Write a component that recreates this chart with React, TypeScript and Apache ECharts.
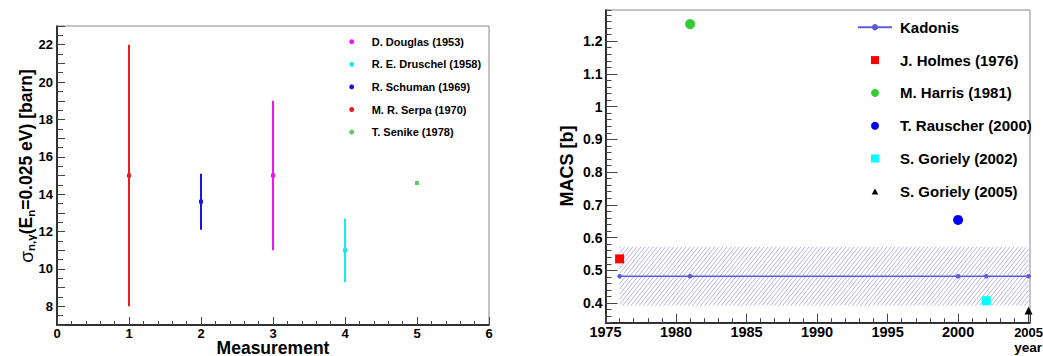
import React, { useEffect, useRef } from 'react';
import * as echarts from 'echarts';

// ---- Left panel: thermal cross section measurements ----
const measNames = ['D. Douglas (1953)', 'R. E. Druschel (1958)', 'R. Schuman (1969)', 'M. R. Serpa (1970)', 'T. Senike (1978)'];
const measIndex = [3, 4, 2, 1, 5];
const measValue = [15, 11, 13.6, 15, 14.6];
const measError = [4, 1.7, 1.5, 7, 0];
const measColors = ['#f014f0', '#14ecec', '#1818d8', '#ee1c1c', '#5ccc5c'];
const leftYTicks = [8, 10, 12, 14, 16, 18, 20, 22];

// ---- Right panel: MACS vs year ----
const kadonisYears = [1976, 1981, 2000, 2002, 2005];
const kadonisValue = 0.482;
const kadonisError = 0.09;
const refNames = ['J. Holmes (1976)', 'M. Harris (1981)', 'T. Rauscher (2000)', 'S. Goriely (2002)', 'S. Goriely (2005)'];
const refYears = [1976, 1981, 2000, 2002, 2005];
const refValues = [0.535, 1.252, 0.654, 0.407, 0.377];
const refSymbols = ['rect', 'circle', 'circle', 'rect', 'triangle'];
const refSizes = [9, 10, 10, 9, 8];
const refColors = ['#ff0000', '#33cc33', '#0000f0', '#00ffff', '#000000'];
const refLegendIcons = [
  'path://M0 0H10V10H0Z',
  'circle',
  'circle',
  'path://M0 0H10V10H0Z',
  'path://M0 0L0 0M10 10L10 10M5 1.5L9.2 9H0.8Z',
];
const rightYTicks = [0.4, 0.5, 0.6, 0.7, 0.8, 0.9, 1, 1.1, 1.2];
const rightXTicks = [1975, 1980, 1985, 1990, 1995, 2000, 2005];

const leftXTitle = 'Measurement';
const leftYTitle = '{s|σ}{sub|n,γ}{b|(E}{sub|n}{b|=0.025 eV) [barn]}';
const rightXTitle = 'year';
const rightYTitle = 'MACS [b]';

const FONT = 'Liberation Sans';
const KAD = '#5c5cd8';

export default function App() {
  const ref = useRef<HTMLDivElement>(null);
  useEffect(() => {
    document.body.style.margin = '0';
    const chart = echarts.init(ref.current as HTMLDivElement, null, { renderer: 'svg' });

    const tickStyle = { color: '#444', width: 1 };
    const labelStyle = (size: number, margin: number) => ({
      color: '#000', fontWeight: 'bold', fontFamily: FONT, fontSize: size, margin,
    });

    const leftSeries = measNames.map((name, i) => ({
      type: 'custom',
      name,
      xAxisIndex: 0,
      yAxisIndex: 0,
      itemStyle: { color: measColors[i] },
      encode: { x: 0, y: 1 },
      data: [[measIndex[i], measValue[i], measError[i]]],
      renderItem: (params: any, api: any) => {
        const x = api.value(0);
        const v = api.value(1);
        const e = api.value(2);
        const c = api.coord([x, v]);
        const color = api.visual('color');
        const children: any[] = [];
        if (e > 0) {
          const t = api.coord([x, v + e]);
          const b = api.coord([x, v - e]);
          children.push({
            type: 'line',
            shape: { x1: c[0], y1: t[1], x2: c[0], y2: b[1] },
            style: { stroke: color, lineWidth: 2 },
          });
        }
        children.push({
          type: 'rect',
          shape: { x: c[0] - 2, y: c[1] - 2, width: 4, height: 4 },
          style: { fill: color },
        });
        return { type: 'group', children };
      },
    }));

    const band = {
      type: 'custom',
      name: 'Kadonis band',
      xAxisIndex: 1,
      yAxisIndex: 1,
      silent: true,
      z: 1,
      encode: { x: [0, 1], y: [2, 3] },
      data: [[kadonisYears[0], kadonisYears[kadonisYears.length - 1], kadonisValue - kadonisError, kadonisValue + kadonisError]],
      renderItem: (params: any, api: any) => {
        const p0 = api.coord([api.value(0), api.value(3)]);
        const p1 = api.coord([api.value(1), api.value(2)]);
        const x0 = p0[0], y0 = p0[1], x1 = p1[0], y1 = p1[1];
        const s = 1.25; // slope of hatch lines
        const lines: any[] = [];
        for (let c = x0 + y0 / s + 1; c < x1 + y1 / s; c += 4.1) {
          const xa = Math.max(x0, c - y1 / s);
          const xb = Math.min(x1, c - y0 / s);
          if (xb <= xa) continue;
          lines.push({
            type: 'line',
            shape: { x1: xa, y1: (c - xa) * s, x2: xb, y2: (c - xb) * s },
            style: { stroke: '#a2a2da', lineWidth: 0.8 },
          });
        }
        return { type: 'group', children: lines };
      },
    };

    const kadonis = {
      type: 'line',
      name: 'Kadonis',
      xAxisIndex: 1,
      yAxisIndex: 1,
      z: 3,
      data: kadonisYears.map((y) => [y, kadonisValue]),
      symbol: 'circle',
      symbolSize: 4.5,
      showSymbol: true,
      lineStyle: { color: KAD, width: 1.5 },
      itemStyle: { color: KAD },
    };

    const refSeries = refNames.map((name, i) => ({
      type: 'scatter',
      name,
      xAxisIndex: 1,
      yAxisIndex: 1,
      z: 4,
      symbol: refSymbols[i],
      symbolSize: refSizes[i],
      itemStyle: { color: refColors[i], opacity: 1 },
      data: [[refYears[i], refValues[i]]],
    }));

    const titleStyle = { fill: '#000', fontFamily: FONT, fontWeight: 'bold', fontSize: 18 };
    const lastYear = rightXTicks[rightXTicks.length - 1];

    const option: any = {
      animation: false,
      backgroundColor: '#fff',
      textStyle: { fontFamily: FONT },
      grid: [
        { left: 57, top: 26, width: 432, height: 299, show: true, borderColor: '#888', borderWidth: 1, outerBoundsMode: 'none', containLabel: false },
        { left: 605.5, top: 10, width: 424.5, height: 312.7, show: true, borderColor: '#888', borderWidth: 1, outerBoundsMode: 'none', containLabel: false },
      ],
      graphic: [
        {
          type: 'text', x: 273, y: 348, silent: true,
          style: { ...titleStyle, fontSize: 17.5, lineHeight: 15.5, text: leftXTitle, align: 'center', verticalAlign: 'middle' },
        },
        {
          type: 'text', x: 26, y: 166, rotation: Math.PI / 2, silent: true,
          style: {
            text: leftYTitle,
            fill: '#000',
            align: 'center',
            verticalAlign: 'middle',
            rich: {
              s: { fontFamily: FONT, fontSize: 19, fontWeight: 'normal', fill: '#000', lineHeight: 22 },
              b: { fontFamily: FONT, fontSize: 17.5, fontWeight: 'bold', fill: '#000', lineHeight: 22 },
              sub: { fontFamily: FONT, fontSize: 11.5, fontWeight: 'bold', fill: '#000', lineHeight: 11, verticalAlign: 'bottom' },
            },
          },
        },
        {
          type: 'text', x: 1042, y: 347, silent: true,
          style: { ...titleStyle, fontSize: 13.5, lineHeight: 13, text: rightXTitle, align: 'right', verticalAlign: 'middle' },
        },
        {
          type: 'text', x: 567, y: 166, rotation: Math.PI / 2, silent: true,
          style: { ...titleStyle, text: rightYTitle, align: 'center', verticalAlign: 'middle' },
        },
      ],
      legend: [
        {
          data: measNames.map((n) => ({ name: n, icon: 'circle' })),
          orient: 'vertical',
          left: 349.2,
          top: 36.2,
          padding: 0,
          itemWidth: 30,
          itemHeight: 5,
          itemGap: 11.6,
          selectedMode: false,
          textStyle: { color: '#000', fontWeight: 'bold', fontFamily: FONT, fontSize: 11 },
        },
        {
          data: [{ name: 'Kadonis' }, ...refNames.map((n, i) => ({ name: n, icon: refLegendIcons[i] }))],
          orient: 'vertical',
          left: 857,
          top: 19.8,
          padding: 0,
          itemWidth: 34,
          itemHeight: 8,
          itemGap: 17.8,
          selectedMode: false,
          textStyle: { color: '#000', fontWeight: 'bold', fontFamily: FONT, fontSize: 15, padding: [0, 0, 0, 3] },
        },
      ],
      xAxis: [
        {
          gridIndex: 0,
          type: 'value',
          min: 0,
          max: 6,
          interval: 1,
          axisLine: { show: true, onZero: false, lineStyle: { color: '#000', width: 1.5 } },
          axisTick: { show: true, inside: true, length: 8, lineStyle: tickStyle },
          minorTick: { show: true, splitNumber: 5, length: 4, lineStyle: tickStyle },
          splitLine: { show: false },
          axisLabel: { ...labelStyle(13, 1.5), lineHeight: 13 },
        },
        {
          gridIndex: 1,
          type: 'value',
          min: 1975,
          max: 2005.1,
          interval: 5,
          axisLine: { show: true, onZero: false, lineStyle: { color: '#000', width: 1.5 } },
          axisTick: { show: true, inside: true, length: 9, lineStyle: tickStyle },
          minorTick: { show: true, splitNumber: 5, length: 4.5, lineStyle: tickStyle },
          splitLine: { show: false },
          axisLabel: {
            ...labelStyle(14.5, 3),
            lineHeight: 13,
            formatter: (v: number) =>
              v === lastYear ? `{e|${v}}` : rightXTicks.includes(v) ? String(v) : '',
            rich: {
              e: { fontFamily: FONT, fontWeight: 'bold', fontSize: 13, lineHeight: 13, color: '#000' },
            },
          },
        },
      ],
      yAxis: [
        {
          gridIndex: 0,
          type: 'value',
          position: 'left',
          min: 7,
          max: 23,
          interval: 1,
          axisLine: { show: true, onZero: false, lineStyle: { color: '#000', width: 1.5 } },
          axisTick: { show: true, inside: true, length: 8, lineStyle: tickStyle },
          minorTick: { show: true, splitNumber: 2, length: 6, lineStyle: tickStyle },
          splitLine: { show: false },
          axisLabel: {
            ...labelStyle(13, 4),
            formatter: (v: number) => (leftYTicks.includes(v) ? String(v) : ''),
          },
        },
        {
          gridIndex: 1,
          type: 'value',
          position: 'left',
          offset: 0,
          min: 0.34,
          max: 1.295,
          interval: 0.02,
          axisLine: { show: true, onZero: false, lineStyle: { color: '#000', width: 1.5 } },
          axisTick: { show: true, inside: true, length: 6, lineStyle: tickStyle },
          splitLine: { show: false },
          axisLabel: { show: false },
        },
        {
          gridIndex: 1,
          type: 'value',
          position: 'left',
          offset: 0,
          min: 0.34,
          max: 1.295,
          axisLine: { show: false },
          axisTick: { show: true, inside: true, length: 12, lineStyle: tickStyle, customValues: rightYTicks },
          splitLine: { show: false },
          axisLabel: { ...labelStyle(14, 3), customValues: rightYTicks },
        },
      ],
      series: [...leftSeries, band, kadonis, ...refSeries],
    };

    chart.setOption(option);
    return () => chart.dispose();
  }, []);

  return <div ref={ref} style={{ width: 1043, height: 356 }} />;
}
